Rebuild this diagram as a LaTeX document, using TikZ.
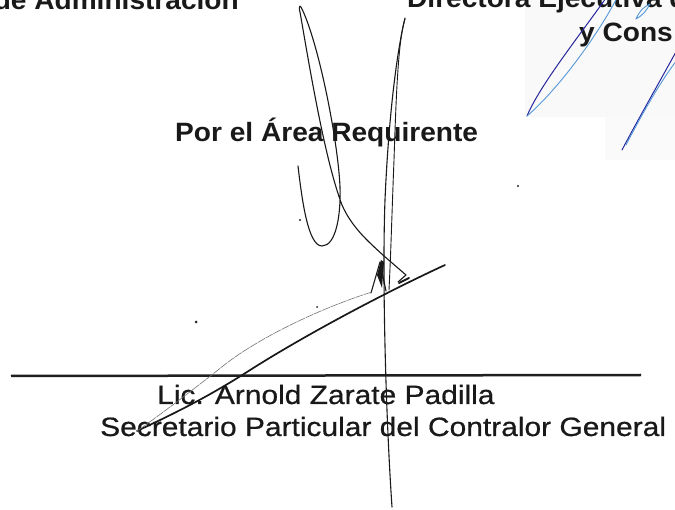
\documentclass[tikz,border=0pt]{standalone}
\usepackage{fontspec}
\setmainfont{Liberation Sans}[FakeStretch=1.06]
\newfontfamily\reg{Liberation Sans}[FakeStretch=1.13,FakeBold=0.6]
\begin{document}
\begin{tikzpicture}[x=1pt,y=-1pt,
  txt/.style={inner sep=0pt,font=\fontsize{26.5}{32}\selectfont\bfseries,text=black!90},
  txtb/.style={inner sep=0pt,font=\fontsize{26.5}{32}\selectfont\reg,text=black!90},
  sig/.style={line width=1.1pt,black!90,line cap=round,line join=round},
  thinsig/.style={line width=0.6pt,black!55,line cap=round},
  bluesig/.style={line width=1pt,blue!55!black!85,line cap=round,line join=round},
  bluesig2/.style={line width=0.9pt,cyan!60!blue!70,line cap=round,line join=round},
  dotm/.style={black!85}]
\useasboundingbox (0,0) rectangle (675,510);
\clip (0,0) rectangle (675,510);
\fill[white] (0,0) rectangle (675,510);
% scan patch
\fill[gray!5] (525,0) rectangle (675,117);
\fill[gray!4] (605,117) rectangle (675,160);
% texts
\node[txt,anchor=base east] (adm) at (239,10) {de Administración};
\node[txt,anchor=base west] (dir) at (407,8) {Directora Ejecutiva d};
\node[txt,anchor=base west] (cons) at (579,42) {y Cons};
\node[txt,anchor=base west] (area) at (175,142) {Por el Área Requirente};
\node[txtb,anchor=base west] (lic) at (157,404) {Lic. Arnold Zarate Padilla};
\node[txtb,anchor=base west] (sec) at (100,436) {Secretario Particular del Contralor General};
% signature line
\coordinate (l1) at (11,376);
\coordinate (l2) at (641,375);
\draw[line width=2.5pt,black!88] (l1) -- (l2);
% black signature
\draw[sig] (298,166) .. controls (302,200) and (308,246) .. (322,246)
  .. controls (336,246) and (341,215) .. (340,187)
  .. controls (338,140) and (318,40) .. (301,7)
  .. controls (299,4) and (299,10) .. (300,12)
  .. controls (310,70) and (325,160) .. (342,205)
  .. controls (352,228) and (370,243) .. (384,256)
  -- (406,275) -- (398,282);
\draw[sig] (405,18) .. controls (395,60) and (388,130) .. (385,200)
  .. controls (382,280) and (386,420) .. (392,507);
\draw[sig,line width=0.9pt] (405,19) .. controls (398,40) and (396,100) .. (394,160)
  .. controls (392,210) and (391,250) .. (389,290);
\draw[sig] (371,293) -- (380,262) -- (386,291);
\fill[black!90] (377,275) -- (381,260) -- (384,262) -- (382,288) -- cycle;
\draw[sig,line width=1.7pt] (445,265) .. controls (380,295) and (300,338) .. (247,372)
  .. controls (200,402) and (160,420) .. (137,431);
\draw[sig,line width=2pt] (399,283) -- (409,278);
\draw[thinsig,dash pattern=on 8pt off 1pt] (372,292) .. controls (330,305) and (260,335) .. (218,370)
  .. controls (190,392) and (160,415) .. (137,431);
\fill[dotm] (300,220) circle (1.2);
\fill[dotm] (317,307) circle (1);
\fill[dotm] (196,322) circle (1.5);
\fill[dotm] (518,186) circle (1.1);
% blue signature
\draw[bluesig] (606,-2) .. controls (580,35) and (540,85) .. (527,116);
\draw[bluesig2] (527,116) .. controls (552,95) and (592,45) .. (617,-2);
\draw[bluesig2] (636,19) .. controls (640,10) and (645,6) .. (650,4)
  .. controls (647,10) and (642,16) .. cycle;
\draw[bluesig] (622,150) .. controls (635,125) and (655,90) .. (677,50);
\draw[bluesig2] (626,145) .. controls (641,116) and (660,82) .. (677,60);
\end{tikzpicture}
\end{document}
